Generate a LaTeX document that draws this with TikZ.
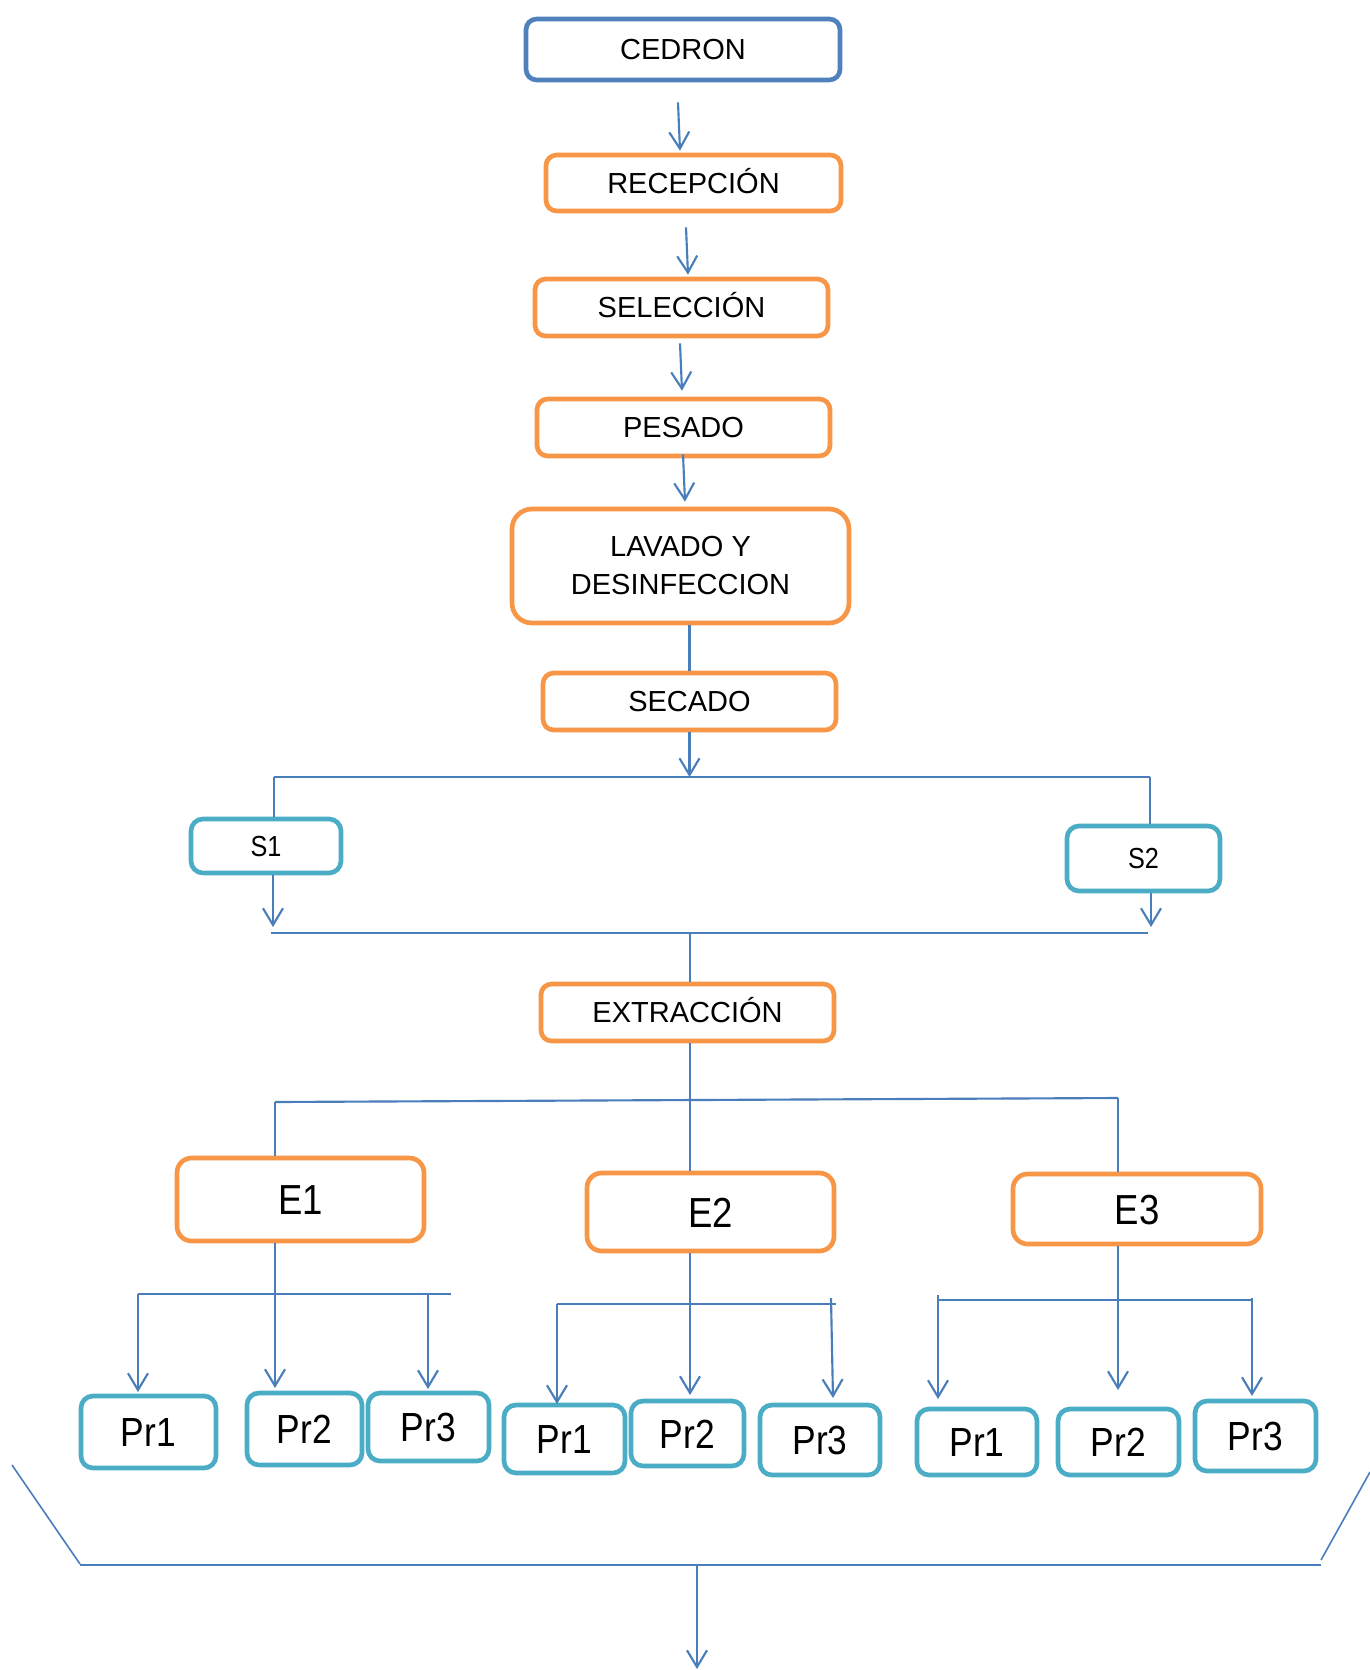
\documentclass[tikz,border=0pt]{standalone}
\usepackage{fontspec}
\setmainfont{Liberation Sans}
\newfontfamily\narrowsans[FakeStretch=0.87]{Liberation Sans}
\usetikzlibrary{arrows.meta,calc}

\definecolor{boxblue}{HTML}{4F81BD}
\definecolor{boxorange}{HTML}{F79646}
\definecolor{boxteal}{HTML}{4BACC6}
\definecolor{linkblue}{HTML}{4A7EBB}

\begin{document}
\begin{tikzpicture}[
  x=0.75pt, y=-0.75pt,
  sz/.style 2 args={minimum width=#1*0.75pt, minimum height=#2*0.75pt},
  box/.style={rectangle, rounded corners=8pt, line width=3.5pt, fill=white,
    inner sep=0pt, align=center, text=black},
  startbox/.style={box, draw=boxblue},
  procbox/.style={box, draw=boxorange},
  samplebox/.style={box, draw=boxteal, rounded corners=9pt},
  topfont/.style={font=\fontsize{21.75}{28.5}\selectfont, text height=15.6pt, text depth=0pt},
  twoline/.style={font=\fontsize{21.75}{28.5}\selectfont},
  sfont/.style={font=\narrowsans\fontsize{21.75}{26}\selectfont, text height=15.6pt, text depth=0pt},
  efont/.style={font=\narrowsans\fontsize{31.5}{36}\selectfont, text height=22.6pt, text depth=0pt},
  prfont/.style={font=\narrowsans\fontsize{30.5}{36}\selectfont, text height=21.8pt, text depth=0pt},
  wire/.style={draw=linkblue, line width=1.6pt},
  arr/.style={wire, -{Straight Barb[length=12.5pt,width=15pt]}}
]
\useasboundingbox (0,0) rectangle (1370,1670);

% main process chain
\node[startbox, topfont, sz={314}{61}] (cedron) at (683,49.5) {CEDRON};
\node[procbox, topfont, sz={295}{56}] (recep) at (693.5,183) {RECEPCIÓN};
\node[procbox, topfont, sz={293}{57}] (selec) at (681.5,307.5) {SELECCIÓN};
\node[procbox, topfont, sz={293}{57}] (pesado) at (683.5,427.5) {PESADO};
\node[procbox, twoline, sz={337}{114}, rounded corners=15pt] (lavado) at (680.5,566) {LAVADO Y\\DESINFECCION};
\node[procbox, topfont, sz={293}{57}] (secado) at (689.5,701.5) {SECADO};

% samples
\node[samplebox, sfont, sz={150}{54}] (s1) at (266,846) {S1};
\node[samplebox, sfont, sz={153}{65}] (s2) at (1143.5,858.5) {S2};

\node[procbox, topfont, sz={293}{57}] (extrac) at (687.5,1012.5) {EXTRACCIÓN};

% extracts
\node[procbox, efont, sz={247}{83}, rounded corners=11pt] (e1) at (300.5,1199.5) {E1};
\node[procbox, efont, sz={247}{78}, rounded corners=11pt] (e2) at (710.5,1212) {E2};
\node[procbox, efont, sz={248}{70}, rounded corners=11pt] (e3) at (1137,1209) {E3};

% products of E1
\node[samplebox, prfont, sz={135}{72}] (pa1) at (148.5,1432) {Pr1};
\node[samplebox, prfont, sz={115}{72}] (pa2) at (304.5,1429) {Pr2};
\node[samplebox, prfont, sz={121}{68}] (pa3) at (428.5,1427) {Pr3};
% products of E2
\node[samplebox, prfont, sz={121}{68}] (pb1) at (564.5,1439) {Pr1};
\node[samplebox, prfont, sz={113}{65}] (pb2) at (687.5,1433.5) {Pr2};
\node[samplebox, prfont, sz={120}{70}] (pb3) at (820,1440) {Pr3};
% products of E3
\node[samplebox, prfont, sz={120}{66}] (pc1) at (977,1442) {Pr1};
\node[samplebox, prfont, sz={121}{66}] (pc2) at (1118.5,1442) {Pr2};
\node[samplebox, prfont, sz={121}{70}] (pc3) at (1255.5,1436) {Pr3};

% chain arrows
\draw[arr] ($(cedron.south)+(-5,20)$) -- ($(recep.north)+(-13.5,-2)$);
\draw[arr] ($(recep.south)+(-7.5,14)$) -- ($(selec.north)+(6.5,-2)$);
\draw[arr] ($(selec.south)+(-1.5,5)$) -- ($(pesado.north)+(-1.5,-6)$);
\draw[arr] ($(pesado.south)+(-0.5,-4)$) -- ($(lavado.north)+(4.5,-5)$);
\draw[wire] (lavado.south -| secado.north) -- (secado.north);

% split into samples
\coordinate (busL) at (274,777);
\coordinate (busR) at (1150,777);
\coordinate (busM) at (689.5,777);
\draw[arr] (secado.south) -- (busM);
\draw[wire] (busL) -- (busR);
\draw[wire] (busL) -- (busL |- s1.north);
\draw[wire] (busR) -- (busR |- s2.north);

% merge of samples
\coordinate (mergeL) at (271,933);
\coordinate (mergeR) at (1148,933);
\coordinate (mergeM) at (690,933);
\draw[wire] (mergeL) -- (mergeR);
\draw[arr] (s1.south -| 273,0) -- (273,927);
\draw[arr] (s2.south -| 1151,0) -- (1151,927);
\draw[wire] (mergeM) -- (mergeM |- extrac.north);

% extraction to extracts
\coordinate (extL) at (275,1102);
\coordinate (extR) at (1118,1098);
\draw[wire] (extrac.south -| mergeM) -- (mergeM |- e2.north);
\draw[wire] (extL) -- (extR);
\draw[wire] (extL) -- (extL |- e1.north);
\draw[wire] (extR) -- (extR |- e3.north);

% E1 branches
\coordinate (aL) at (138,1294);
\coordinate (aR) at (451,1294);
\coordinate (a3) at (428,1294);
\draw[wire] (aL) -- (aR);
\draw[arr] (e1.south -| extL) -- (275,1388);
\draw[arr] (aL) -- (138,1392);
\draw[arr] (a3) -- (428,1389);

% E2 branches
\coordinate (bL) at (557,1304);
\coordinate (bR) at (836,1304);
\coordinate (b3) at (831,1298);
\draw[wire] (bL) -- (bR);
\draw[arr] (bL) -- (557,1404);
\draw[arr] (e2.south -| mergeM) -- (690,1395);
\draw[arr] (b3) -- (833,1398);

% E3 branches
\coordinate (cL) at (938,1300);
\coordinate (cR) at (1252,1300);
\draw[wire] (cL) -- (cR);
\draw[arr] (938,1295) -- (938,1399);
\draw[arr] (e3.south -| extR) -- (1118,1390);
\draw[arr] (1252,1298) -- (1252,1396);

% final collector
\coordinate (colTL) at (12,1465);
\coordinate (colBL) at (80,1564);
\coordinate (colTR) at (1370,1472);
\coordinate (colBR) at (1321,1560);
\coordinate (colM) at (697,1565);
\coordinate (outEnd) at (697,1669);
\draw[wire, line width=1.2pt] (colTL) -- (colBL);
\draw[wire, line width=1.2pt] (colTR) -- (colBR);
\draw[wire] (80,1565) -- (1321,1565);
\draw[arr] (colM) -- (outEnd);
\end{tikzpicture}
\end{document}
